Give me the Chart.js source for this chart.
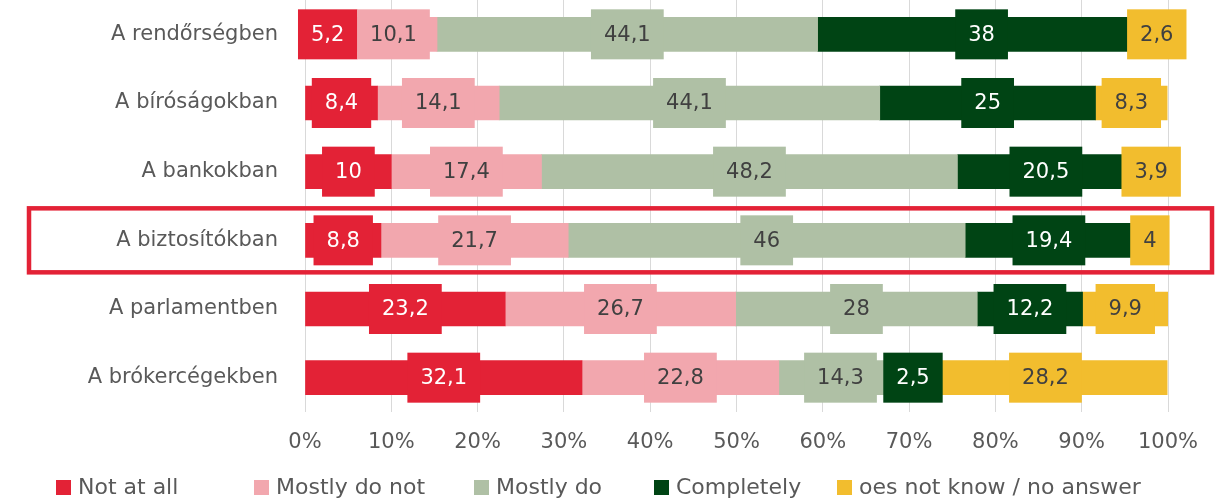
<!DOCTYPE html>
<html>
<head>
    <meta charset="utf-8">
    <title>Trust by institution</title>
    <script src="https://cdn.jsdelivr.net/npm/chart.js"></script>
    <style>
        body { margin: 0; background: #fff; }
        canvas { display: block; }
    </style>
</head>
<body>
    <canvas id="trustChart" width="1228" height="502"></canvas>
    <script>
        // data
        const categories = ["A rendőrségben", "A bíróságokban", "A bankokban", "A biztosítókban", "A parlamentben", "A brókercégekben"];
        const notAtAll = [5.2, 8.4, 10, 8.8, 23.2, 32.1];
        const mostlyNot = [10.1, 14.1, 17.4, 21.7, 26.7, 22.8];
        const mostlyDo = [44.1, 44.1, 48.2, 46, 28, 14.3];
        const completely = [38, 25, 20.5, 19.4, 12.2, 2.5];
        const noAnswer = [2.6, 8.3, 3.9, 4, 9.9, 28.2];
        const seriesNames = ["Not at all", "Mostly do not", "Mostly do", "Completely", "oes not know / no answer"];
        const highlightRow = 3;

        // styling
        const FONT = '"DejaVu Sans", Verdana, sans-serif';
        const colors = ["#E32236", "#F2A7AE", "#AFC0A5", "#004414", "#F2BD2E"];
        const labelColors = ["#ffffff", "#404040", "#404040", "#ffffff", "#404040"];
        const legendX = [56, 254, 474, 654, 837];

        const labelBoxes = {
            id: "labelBoxes",
            afterDatasetsDraw(chart) {
                const ctx = chart.ctx;
                ctx.save();
                ctx.font = "21px " + FONT;
                ctx.textAlign = "center";
                ctx.textBaseline = "middle";
                chart.data.datasets.forEach((ds, i) => {
                    chart.getDatasetMeta(i).data.forEach((bar, j) => {
                        const txt = String(ds.data[j]).replace(".", ",");
                        const w = ctx.measureText(txt).width + 26;
                        const cx = (bar.x + bar.base) / 2;
                        ctx.fillStyle = ds.backgroundColor;
                        ctx.fillRect(cx - w / 2, bar.y - 25, w, 50);
                        ctx.fillStyle = labelColors[i];
                        ctx.fillText(txt, cx, bar.y + 1);
                    });
                });
                ctx.restore();
            },
            afterDraw(chart) {
                const ctx = chart.ctx;
                ctx.save();
                // highlight frame round one row
                const y = chart.scales.y.getPixelForValue(highlightRow);
                ctx.strokeStyle = "#E32236";
                ctx.lineWidth = 4.5;
                ctx.strokeRect(29, y - 32, 1183, 64);
                // legend
                ctx.font = "22px " + FONT;
                ctx.textBaseline = "middle";
                ctx.textAlign = "left";
                chart.data.datasets.forEach((ds, i) => {
                    ctx.fillStyle = ds.backgroundColor;
                    ctx.fillRect(legendX[i], 480, 15, 15);
                    ctx.fillStyle = "#595959";
                    ctx.fillText(ds.label, legendX[i] + 22, 488);
                });
                ctx.restore();
            }
        };

        const series = [notAtAll, mostlyNot, mostlyDo, completely, noAnswer];

        new Chart(document.getElementById("trustChart"), {
            type: "bar",
            data: {
                labels: categories,
                datasets: series.map((d, i) => ({
                    label: seriesNames[i],
                    data: d,
                    backgroundColor: colors[i],
                    barThickness: 34
                }))
            },
            options: {
                indexAxis: "y",
                responsive: false,
                animation: false,
                layout: { padding: { top: 0, right: 60, bottom: 47, left: 0 } },
                plugins: { legend: { display: false }, tooltip: { enabled: false } },
                scales: {
                    x: {
                        stacked: true,
                        min: 0,
                        max: 100,
                        ticks: {
                            stepSize: 10,
                            padding: 18,
                            color: "#595959",
                            font: { family: FONT, size: 21 },
                            callback: v => v + "%"
                        },
                        grid: { color: "#d9d9d9", drawTicks: false },
                        border: { display: false },
                        afterFit: s => { s.height = 43; }
                    },
                    y: {
                        stacked: true,
                        ticks: {
                            padding: 27,
                            color: "#595959",
                            font: { family: FONT, size: 21 }
                        },
                        grid: { display: false, drawTicks: false },
                        border: { display: false },
                        afterFit: s => { s.width = 305; s.paddingTop = 0; s.paddingBottom = 0; }
                    }
                }
            },
            plugins: [labelBoxes]
        });
    </script>
</body>
</html>
